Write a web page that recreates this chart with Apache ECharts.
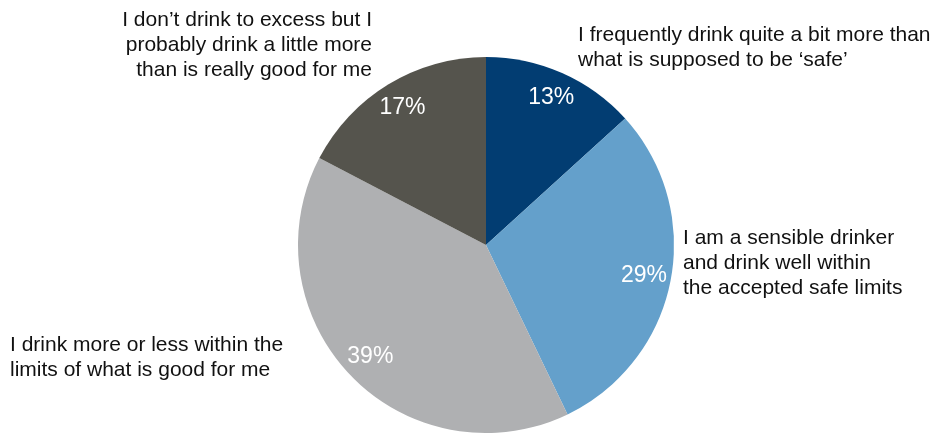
<!DOCTYPE html>
<html>
<head>
<meta charset="utf-8">
<script src="https://cdn.jsdelivr.net/npm/echarts@6/dist/echarts.min.js"></script>
<style>
  html, body { margin: 0; padding: 0; background: #ffffff; }
  #chart { width: 938px; height: 433px; }
</style>
</head>
<body>
<div id="chart"></div>
<script>
// Survey answers, clockwise from 12 o'clock
const categories = [
  'I frequently drink quite a bit more than\nwhat is supposed to be \u2018safe\u2019',
  'I am a sensible drinker\nand drink well within\nthe accepted safe limits',
  'I drink more or less within the\nlimits of what is good for me',
  'I don\u2019t drink to excess but I\nprobably drink a little more\nthan is really good for me'
];
const shares = [13, 29, 39, 17];
const sliceColors = ['#023d72', '#64a0cb', '#afb0b2', '#55544d'];

// Where each answer text sits: [x, y, horizontal alignment]
const nameAnchors = [
  [578, 23, 'left'],
  [683, 226, 'left'],
  [10, 333, 'left'],
  [372, 8, 'right']
];

const FONT = 'Liberation Sans, Helvetica, Arial, sans-serif';
const CENTER = [486, 245];
const R = 188;

const data = categories.map((name, i) => ({
  name: name,
  value: shares[i],
  itemStyle: { color: sliceColors[i] }
}));

const chart = echarts.init(document.getElementById('chart'), null, { renderer: 'canvas' });
chart.setOption({
  backgroundColor: '#ffffff',
  animation: false,
  series: [
    {
      // slices with their answer texts
      type: 'pie',
      center: CENTER,
      radius: [0, R],
      startAngle: 90,
      clockwise: true,
      avoidLabelOverlap: false,
      silent: true,
      data: data,
      label: {
        show: true,
        position: 'outside',
        formatter: '{b}',
        color: '#111111',
        fontFamily: FONT,
        fontSize: 21,
        lineHeight: 25
      },
      labelLine: { show: false },
      labelLayout: function (p) {
        const a = nameAnchors[p.dataIndex];
        return { x: a[0], y: a[1], align: a[2], verticalAlign: 'top' };
      }
    },
    {
      // percentage values drawn near the rim of each slice
      type: 'pie',
      center: CENTER,
      radius: [128, R],
      startAngle: 90,
      clockwise: true,
      silent: true,
      avoidLabelOverlap: false,
      data: categories.map((name, i) => ({ name: name, value: shares[i] })),
      itemStyle: { color: 'rgba(0,0,0,0)' },
      label: {
        show: true,
        position: 'inside',
        formatter: function (p) { return p.value + '%'; },
        color: '#ffffff',
        fontFamily: FONT,
        fontSize: 23
      },
      labelLine: { show: false }
    }
  ]
});
</script>
</body>
</html>
